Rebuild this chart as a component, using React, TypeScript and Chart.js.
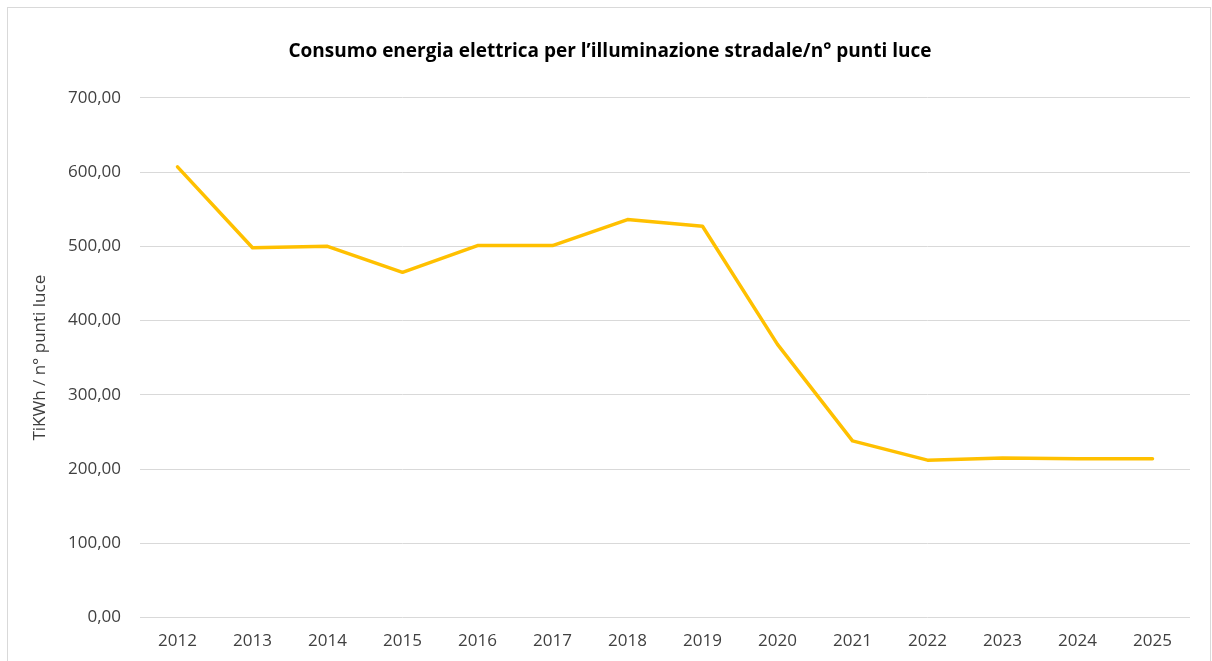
import React, { useEffect, useRef } from "react";
import { Chart, registerables } from "chart.js";

Chart.register(...registerables);

const years = ["2012", "2013", "2014", "2015", "2016", "2017", "2018", "2019", "2020", "2021", "2022", "2023", "2024", "2025"];
const consumo = [607, 498, 500, 465, 501, 501, 536, 527, 368, 238, 212, 215, 214, 214];
const chartTitle = "Consumo energia elettrica per l\u2019illuminazione stradale/n\u00b0 punti luce";
const yAxisTitle = "TiKWh / n\u00b0 punti luce";

const FONT = "'Open Sans', 'Noto Sans', sans-serif";

export default function App() {
  const ref = useRef<HTMLCanvasElement | null>(null);

  useEffect(() => {
    if (!ref.current) return;
    const chart = new Chart(ref.current, {
      type: "line",
      data: {
        labels: years,
        datasets: [
          {
            label: "Consumo",
            data: consumo,
            borderColor: "#FFC000",
            backgroundColor: "#FFC000",
            borderWidth: 3.5,
            pointRadius: 0,
            tension: 0,
            borderJoinStyle: "round",
            borderCapStyle: "round",
          },
        ],
      },
      options: {
        animation: false,
        responsive: false,
        maintainAspectRatio: false,
        layout: { padding: { left: 22, right: 20, top: 0, bottom: 6 } },
        plugins: {
          legend: { display: false },
          tooltip: { enabled: false },
          title: {
            display: true,
            text: chartTitle,
            color: "#000000",
            font: { family: FONT, size: 19, weight: "bold" },
            padding: { top: 32, bottom: 35 },
          },
        },
        scales: {
          x: {
            offset: true,
            grid: { display: false, drawTicks: false },
            border: { display: false },
            ticks: {
              color: "#404040",
              font: { family: FONT, size: 17 },
              padding: 13,
              maxRotation: 0,
            },
          },
          y: {
            min: 0,
            max: 700,
            grid: { color: "#d9d9d9", lineWidth: 1, drawTicks: false },
            border: { display: false },
            ticks: {
              stepSize: 100,
              color: "#404040",
              font: { family: FONT, size: 17 },
              padding: 19,
              callback: (v: any) => Number(v).toFixed(2).replace(".", ","),
            },
            title: {
              display: true,
              text: yAxisTitle,
              color: "#404040",
              font: { family: FONT, size: 17 },
              padding: 0,
            },
            afterFit: (scale: any) => {
              scale.width = 110;
            },
          },
        },
      },
    });
    return () => chart.destroy();
  }, []);

  return (
    <div
      style={{
        position: "fixed",
        left: 7,
        top: 7,
        width: 1204,
        height: 664,
        border: "1px solid #d9d9d9",
        boxSizing: "border-box",
        background: "#fff",
      }}
    >
      <canvas ref={ref} width={1202} height={662} style={{ display: "block" }} />
    </div>
  );
}
